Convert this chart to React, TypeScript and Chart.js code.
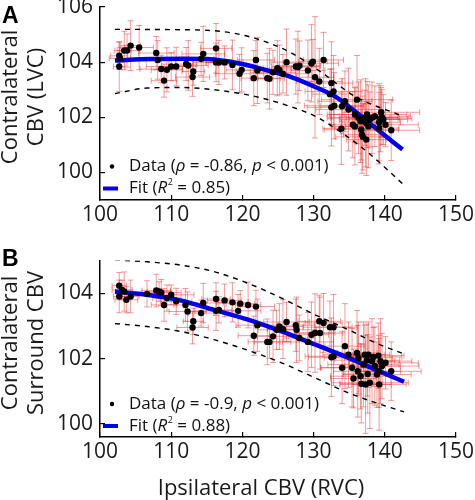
import React, { useEffect, useRef } from 'react';
import { Chart, registerables } from 'chart.js';

Chart.register(...registerables);

const FONT = '"Open Sans", "DejaVu Sans", sans-serif';

// ---------- Panel A data ----------
const xA = [102.7, 102.7, 102.8, 103.4, 103.8, 104.3, 105.5, 107.9, 108.1, 108.6, 109.0, 109.4, 110.0, 110.7, 112.1, 112.4, 113.1, 113.0, 114.2, 114.5,
  116.3, 116.3, 116.7, 117.5, 118.6, 119.6, 119.9, 121.6, 121.9, 122.1, 123.5, 123.8, 124.3, 124.9, 125.2, 125.7, 126.2, 127.5, 127.8, 128.0,
  129.2, 129.7, 129.9, 130.2, 130.8, 131.4, 132.5, 132.8, 132.3, 132.5, 132.9, 134.0, 133.9, 134.4, 134.9, 135.5, 135.8, 136.1, 135.8, 136.3,
  136.6, 136.7, 136.8, 136.9, 137.2, 137.3, 137.4, 137.5, 137.7, 137.9, 138.2, 138.6, 139.2, 139.4, 139.5, 139.6, 139.2, 140.1, 140.9, 139.8];
const yA = [104.23, 103.84, 104.14, 104.42, 104.42, 104.6, 104.53, 104.33, 104.08, 103.75, 103.33, 103.72, 103.84, 103.84, 103.93, 103.88, 103.66, 103.46, 104.12, 104.3,
  104.5, 103.99, 103.99, 103.99, 103.9, 103.58, 103.72, 103.42, 104.08, 103.7, 103.42, 103.4, 103.63, 103.78, 103.72, 103.58, 104.0, 103.84, 103.82, 103.87,
  103.7, 103.96, 104.02, 103.45, 103.3, 104.08, 103.24, 102.94, 102.84, 102.36, 102.42, 102.4, 101.59, 102.58, 102.28, 101.73, 101.67, 102.64, 102.1, 101.98,
  101.86, 101.55, 101.37, 101.29, 101.98, 101.8, 101.19, 102.1, 101.67, 101.92, 101.98, 102.04, 101.82, 101.95, 102.18, 102.0, 101.61, 101.73, 101.53, 101.92];
const xErrA = [1.2, 0.8, 1.5, 1.0, 1.8, 1.4, 2.0, 2.5, 1.6, 3.0, 1.8, 2.2, 3.5, 2.0, 1.5, 2.8, 1.6, 2.4, 1.8, 3.0,
  2.2, 3.2, 1.8, 2.6, 2.0, 3.4, 2.2, 1.8, 2.6, 3.0, 2.4, 1.6, 3.2, 2.0, 2.8, 3.6, 2.2, 3.4, 2.6, 3.0,
  2.4, 3.8, 2.0, 2.6, 3.2, 2.8, 3.0, 4.0, 2.4, 3.4, 4.2, 3.0, 2.6, 3.8, 4.6, 3.2, 2.8, 5.0, 3.6, 4.4,
  3.0, 5.2, 2.6, 3.8, 4.8, 3.4, 2.8, 5.6, 3.2, 4.2, 3.6, 5.0, 3.0, 4.4, 5.4, 3.8, 2.8, 4.6, 4.0, 3.4];
const yErrA = [0.5, 0.9, 0.4, 0.7, 0.6, 0.9, 0.8, 0.6, 0.7, 0.5, 0.6, 0.8, 0.5, 0.7, 0.6, 0.9, 0.5, 0.7, 0.6, 1.0,
  0.9, 0.7, 0.8, 0.6, 0.9, 0.7, 0.8, 1.0, 0.7, 1.2, 0.9, 1.1, 0.8, 1.0, 0.9, 0.7, 1.2, 1.0, 1.3, 0.9,
  1.1, 1.4, 0.8, 2.2, 1.2, 1.0, 1.5, 1.3, 0.9, 1.4, 1.2, 1.0, 1.3, 1.1, 1.5, 1.2, 1.4, 1.6, 1.0, 1.3,
  1.5, 1.1, 1.4, 1.2, 1.0, 1.6, 1.3, 1.2, 1.5, 1.0, 1.3, 1.1, 1.4, 1.2, 0.9, 1.0, 1.3, 0.8, 1.1, 0.9];
const fitXA = [102.1, 107.1, 112.0, 115.1, 119.8, 123.6, 126.4, 130.2, 133.0, 135.8, 138.7, 142.5];
const fitYA = [104.06, 104.11, 104.12, 104.11, 103.94, 103.69, 103.5, 103.1, 102.76, 102.22, 101.61, 100.83];
const upXA = [102.1, 110.0, 116.0, 121.7, 126.9, 131.1, 135.8, 142.5];
const upYA = [105.19, 105.18, 105.14, 104.87, 104.33, 103.63, 102.76, 102.04];
const loXA = [102.1, 106.6, 111.3, 116.0, 121.7, 126.4, 130.2, 134.0, 137.7, 142.5];
const loYA = [102.86, 103.06, 103.08, 103.0, 102.76, 102.42, 102.04, 101.43, 100.71, 99.59];
const yTicksA = [100, 102, 104, 106];

// ---------- Panel B data ----------
const xB = [102.7, 102.7, 103.1, 103.4, 103.7, 104.3, 106.6, 107.9, 108.3, 108.6, 109.0, 109.4, 110.0, 110.7, 112.0, 112.3, 113.1, 113.0, 114.2, 114.5,
  116.3, 116.3, 116.7, 117.5, 118.6, 119.4, 119.7, 120.8, 121.9, 122.1, 121.6, 123.5, 123.8, 124.3, 124.8, 125.2, 125.7, 126.2, 127.5, 127.6,
  128.0, 129.2, 129.7, 130.2, 130.8, 131.4, 130.9, 132.3, 132.8, 132.5, 132.8, 134.0, 134.4, 134.9, 135.4, 135.6, 136.1, 136.3, 136.2, 136.6,
  136.7, 137.0, 137.2, 137.3, 137.5, 137.6, 137.7, 137.9, 138.2, 138.4, 138.6, 138.9, 139.2, 139.4, 139.6, 139.2, 140.1, 140.9, 139.1];
const yB = [104.23, 103.9, 104.1, 104.05, 103.8, 103.9, 103.98, 104.08, 104.05, 104.02, 103.64, 103.85, 103.95, 103.75, 103.64, 103.44, 103.14, 102.95, 103.39, 103.7,
  103.82, 103.46, 103.49, 103.78, 103.72, 103.46, 103.68, 103.64, 103.59, 103.02, 102.7, 102.51, 102.51, 102.68, 102.88, 102.98, 102.9, 103.12, 103.02, 102.88,
  102.63, 102.51, 102.73, 102.78, 103.14, 103.09, 102.78, 102.96, 102.96, 102.04, 102.07, 101.72, 102.38, 102.12, 101.72, 101.39, 102.17, 102.02, 101.61, 101.46,
  101.23, 101.82, 102.12, 101.21, 101.95, 101.53, 102.12, 101.26, 101.92, 102.05, 101.77, 101.51, 101.61, 101.92, 101.77, 101.21, 101.87, 101.61, 102.09];
const xErrB = [1.0, 0.8, 1.4, 1.2, 1.6, 1.2, 2.2, 2.0, 1.6, 2.8, 1.8, 2.0, 3.2, 2.2, 1.6, 2.6, 1.4, 2.2, 1.8, 2.8,
  2.0, 3.0, 1.8, 2.4, 2.2, 3.2, 2.0, 1.8, 2.6, 3.0, 2.2, 1.8, 3.0, 2.2, 2.6, 3.4, 2.2, 3.2, 2.6, 2.8,
  2.2, 3.6, 2.4, 2.8, 3.0, 2.6, 3.2, 3.8, 2.6, 3.2, 4.0, 3.0, 2.8, 3.6, 4.4, 3.2, 2.8, 4.8, 3.4, 4.2,
  3.0, 5.0, 2.8, 3.6, 4.6, 3.4, 3.0, 5.4, 3.2, 4.0, 3.6, 4.8, 3.0, 4.4, 5.2, 3.8, 4.6, 4.2, 3.6];
const yErrB = [0.4, 0.5, 0.3, 0.6, 0.4, 0.5, 0.4, 0.5, 0.3, 0.4, 0.5, 0.4, 0.3, 0.4, 0.5, 0.6, 0.4, 0.5, 0.4, 0.6,
  0.5, 0.6, 0.4, 0.5, 0.6, 0.5, 0.4, 0.7, 0.5, 0.8, 0.6, 0.7, 0.5, 0.8, 0.6, 0.7, 0.9, 0.6, 0.8, 1.0,
  0.7, 0.9, 1.0, 1.2, 0.8, 0.9, 1.1, 0.8, 1.0, 1.2, 0.9, 1.1, 1.3, 1.0, 1.2, 0.9, 1.3, 1.1, 1.4, 1.0,
  1.2, 1.3, 0.9, 1.5, 1.1, 1.2, 1.0, 1.4, 1.3, 0.9, 1.2, 1.0, 1.1, 1.3, 1.0, 1.4, 0.8, 0.9, 1.0];
const fitXB = [102.1, 106.6, 111.3, 116.0, 120.8, 125.5, 130.2, 134.9, 138.7, 142.7];
const fitYB = [104.05, 103.95, 103.78, 103.49, 103.19, 102.83, 102.43, 102.02, 101.66, 101.29];
const upXB = [102.1, 106.6, 111.3, 116.0, 120.8, 125.5, 130.2, 134.9, 138.7, 142.7];
const upYB = [105.02, 104.96, 104.86, 104.66, 104.3, 103.85, 103.34, 102.88, 102.48, 102.14];
const loXB = [102.1, 106.6, 111.3, 116.0, 120.8, 125.5, 130.2, 134.9, 138.7, 142.7];
const loYB = [103.07, 102.98, 102.83, 102.58, 102.25, 101.87, 101.41, 100.95, 100.65, 100.37];
const yTicksB = [100, 102, 104];

const xTicks = [100, 110, 120, 130, 140, 150];

type Seg = { t: string; i?: boolean; sup?: boolean };
type PanelProps = {
  height: number; top: number; areaTop: number; areaBottom: number;
  xs: number[]; ys: number[]; xe: number[]; ye: number[];
  fx: number[]; fy: number[]; ux: number[]; uy: number[]; lx: number[]; ly: number[];
  yMin: number; yMax: number; yTicks: number[];
  letter: string; letterY: number; yTitle: string[]; yTitleY: number;
  leg1: Seg[]; leg2: Seg[]; legY1: number; legY2: number;
  xTitle?: string; xTitleY?: number;
};

const pts = (xs: number[], ys: number[]) => xs.map((x, i) => ({ x, y: ys[i] }));

function drawSegs(ctx: CanvasRenderingContext2D, segs: Seg[], x: number, y: number, size: number) {
  let cx = x;
  ctx.textBaseline = 'middle';
  ctx.textAlign = 'left';
  for (const s of segs) {
    if (s.sup) {
      ctx.font = `${Math.round(size * 0.55)}px ${FONT}`;
      ctx.fillText(s.t, cx + 0.5, y - size * 0.35);
      cx += ctx.measureText(s.t).width + 0.5;
    } else {
      ctx.font = `${s.i ? 'italic ' : ''}${size}px ${FONT}`;
      ctx.fillText(s.t, cx, y);
      cx += ctx.measureText(s.t).width;
    }
  }
}

function Panel(p: PanelProps) {
  const ref = useRef<HTMLCanvasElement | null>(null);
  useEffect(() => {
    const canvas = ref.current;
    if (!canvas) return;
    const errPlugin = {
      id: 'errbars',
      beforeDatasetsDraw(chart: any) {
        const { ctx, scales, chartArea } = chart;
        const sx = scales.x, sy = scales.y;
        ctx.save();
        ctx.beginPath();
        ctx.rect(chartArea.left, chartArea.top - 2, chartArea.right - chartArea.left, chartArea.bottom - chartArea.top + 2);
        ctx.clip();
        ctx.strokeStyle = 'rgba(235, 30, 30, 0.45)';
        ctx.lineWidth = 1;
        const cap = 3;
        p.xs.forEach((x, i) => {
          const y = p.ys[i];
          const px = sx.getPixelForValue(x), py = sy.getPixelForValue(y);
          const x1 = sx.getPixelForValue(x - p.xe[i]), x2 = sx.getPixelForValue(x + p.xe[i]);
          const y1 = sy.getPixelForValue(y - p.ye[i]), y2 = sy.getPixelForValue(y + p.ye[i]);
          ctx.beginPath();
          ctx.moveTo(x1, py); ctx.lineTo(x2, py);
          ctx.moveTo(x1, py - cap); ctx.lineTo(x1, py + cap);
          ctx.moveTo(x2, py - cap); ctx.lineTo(x2, py + cap);
          ctx.moveTo(px, y1); ctx.lineTo(px, y2);
          ctx.moveTo(px - cap, y1); ctx.lineTo(px + cap, y1);
          ctx.moveTo(px - cap, y2); ctx.lineTo(px + cap, y2);
          ctx.stroke();
        });
        ctx.restore();
      },
    };
    const textPlugin = {
      id: 'texts',
      afterDraw(chart: any) {
        const { ctx } = chart;
        ctx.save();
        ctx.fillStyle = '#000';
        ctx.font = `bold 23px "Liberation Sans", Arial, sans-serif`;
        ctx.textAlign = 'left';
        ctx.textBaseline = 'alphabetic';
        ctx.fillText(p.letter, 2, p.letterY);
        // y title
        ctx.save();
        ctx.translate(0, p.yTitleY);
        ctx.rotate(-Math.PI / 2);
        ctx.font = `22px ${FONT}`;
        ctx.fillStyle = '#1a1a1a';
        ctx.textAlign = 'center';
        ctx.textBaseline = 'middle';
        p.yTitle.forEach((line, i) => ctx.fillText(line, 0, 11 + i * 26));
        ctx.restore();
        // x title
        if (p.xTitle) {
          ctx.font = `22px ${FONT}`;
          ctx.fillStyle = '#1a1a1a';
          ctx.textAlign = 'center';
          ctx.textBaseline = 'middle';
          ctx.fillText(p.xTitle, 261, p.xTitleY);
        }
        // legend
        ctx.fillStyle = '#000';
        ctx.beginPath();
        ctx.arc(112, p.legY1, 2.2, 0, Math.PI * 2);
        ctx.fill();
        ctx.strokeStyle = '#0000ee';
        ctx.lineWidth = 4;
        ctx.beginPath();
        ctx.moveTo(103, p.legY2); ctx.lineTo(118, p.legY2);
        ctx.stroke();
        ctx.fillStyle = '#111';
        drawSegs(ctx, p.leg1, 129, p.legY1, 17);
        drawSegs(ctx, p.leg2, 129, p.legY2, 17);
        ctx.restore();
      },
    };
    const chart = new Chart(canvas, {
      type: 'scatter',
      data: {
        datasets: [
          {
            data: pts(p.xs, p.ys),
            backgroundColor: '#000',
            borderColor: '#000',
            pointRadius: 3.2,
            pointBorderWidth: 0,
            order: 0,
          },
          {
            data: pts(p.fx, p.fy),
            showLine: true,
            borderColor: '#0000ee',
            borderWidth: 4.5,
            pointRadius: 0,
            cubicInterpolationMode: 'monotone',
            order: 1,
          },
          {
            data: pts(p.ux, p.uy),
            showLine: true,
            borderColor: '#000',
            borderWidth: 1.4,
            borderDash: [5, 5],
            pointRadius: 0,
            cubicInterpolationMode: 'monotone',
            order: 2,
          },
          {
            data: pts(p.lx, p.ly),
            showLine: true,
            borderColor: '#000',
            borderWidth: 1.4,
            borderDash: [5, 5],
            pointRadius: 0,
            cubicInterpolationMode: 'monotone',
            order: 2,
          },
        ],
      } as any,
      options: {
        responsive: false,
        animation: false,
        devicePixelRatio: 1,
        layout: { padding: { top: p.areaTop, right: 19, left: 0, bottom: 0 } },
        plugins: { legend: { display: false }, tooltip: { enabled: false } },
        scales: {
          x: {
            type: 'linear',
            min: 100,
            max: 150,
            afterBuildTicks: (s: any) => { s.ticks = xTicks.map((v) => ({ value: v })); },
            afterFit: (s: any) => { s.height = p.height - p.areaBottom; s.paddingLeft = 0; s.paddingRight = 0; },
            grid: { display: true, drawOnChartArea: false, drawTicks: true, tickLength: -5, color: '#000', lineWidth: 1.2 },
            border: { display: true, color: '#000', width: 1.5 },
            ticks: { font: { family: FONT, size: 21 }, color: '#1a1a1a', padding: 7, maxRotation: 0 },
          },
          y: {
            type: 'linear',
            min: p.yMin,
            max: p.yMax,
            afterBuildTicks: (s: any) => { s.ticks = p.yTicks.map((v) => ({ value: v })); },
            afterFit: (s: any) => { s.width = 100; s.paddingTop = 0; s.paddingBottom = 0; },
            grid: { display: true, drawOnChartArea: false, drawTicks: true, tickLength: -5, color: '#000', lineWidth: 1.2 },
            border: { display: true, color: '#000', width: 1.5 },
            ticks: { font: { family: FONT, size: 21 }, color: '#1a1a1a', padding: 12 },
          },
        },
      } as any,
      plugins: [errPlugin, textPlugin],
    });
    return () => chart.destroy();
  }, []);
  return (
    <canvas
      ref={ref}
      width={475}
      height={p.height}
      style={{ position: 'absolute', left: 0, top: p.top, width: 475, height: p.height }}
    />
  );
}

export default function App() {
  return (
    <div style={{ position: 'absolute', left: 0, top: 0, width: 475, height: 500, background: '#fff' }}>
      <Panel
        height={232} top={0} areaTop={7} areaBottom={200}
        xs={xA} ys={yA} xe={xErrA} ye={yErrA}
        fx={fitXA} fy={fitYA} ux={upXA} uy={upYA} lx={loXA} ly={loYA}
        yMin={99} yMax={106} yTicks={yTicksA}
        letter="A" letterY={23} yTitle={['Contralateral', 'CBV (LVC)']} yTitleY={97}
        leg1={[{ t: 'Data (' }, { t: 'ρ', i: true }, { t: ' = -0.86, ' }, { t: 'p', i: true }, { t: ' < 0.001)' }]}
        leg2={[{ t: 'Fit (' }, { t: 'R', i: true }, { t: '2', sup: true }, { t: ' = 0.85)' }]}
        legY1={166.5} legY2={188.5}
      />
      <Panel
        height={268} top={232} areaTop={28.5} areaBottom={205}
        xs={xB} ys={yB} xe={xErrB} ye={yErrB}
        fx={fitXB} fy={fitYB} ux={upXB} uy={upYB} lx={loXB} ly={loYB}
        yMin={99.6} yMax={105} yTicks={yTicksB}
        letter="B" letterY={34} yTitle={['Contralateral', 'Surround CBV']} yTitleY={111}
        leg1={[{ t: 'Data (' }, { t: 'ρ', i: true }, { t: ' = -0.9, ' }, { t: 'p', i: true }, { t: ' < 0.001)' }]}
        leg2={[{ t: 'Fit (' }, { t: 'R', i: true }, { t: '2', sup: true }, { t: ' = 0.88)' }]}
        legY1={172} legY2={194}
        xTitle="Ipsilateral CBV (RVC)" xTitleY={257}
      />
    </div>
  );
}
